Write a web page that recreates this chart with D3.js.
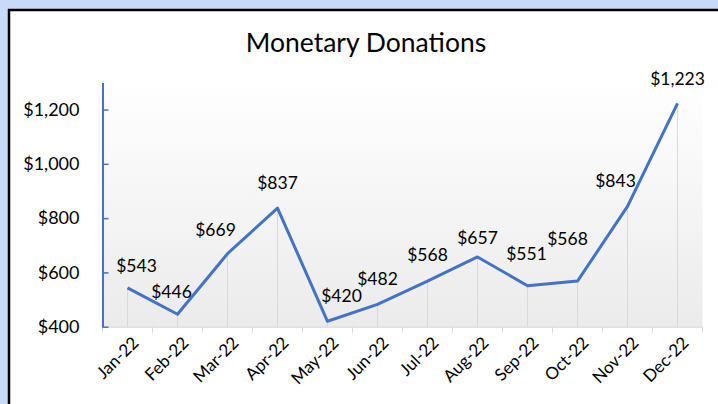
<!DOCTYPE html>
<html>
<head>
<meta charset="utf-8">
<script src="https://cdn.jsdelivr.net/npm/d3@7"></script>
<style>
  body { margin: 0; background: #c9daf8; }
  svg { display: block; }
  text { font-family: Lato, "Open Sans", sans-serif; fill: #000; }
</style>
</head>
<body>
<div id="chart"></div>
<script>
// data
var months = ["Jan-22", "Feb-22", "Mar-22", "Apr-22", "May-22", "Jun-22",
              "Jul-22", "Aug-22", "Sep-22", "Oct-22", "Nov-22", "Dec-22"];
var donations = [543, 446, 669, 837, 420, 482, 568, 657, 551, 568, 843, 1223];
var yTicks = [400, 600, 800, 1000, 1200];
var title = "Monetary Donations";

// hand placed label nudges (excel moved some labels around)
var labelNudge = [[9, 3], [-6, 3], [-12, 1], [0, 0], [14, 0], [0, 0],
                  [0, -1], [0, 6], [-1, -7], [-10, -17], [-12, 0], [0, 1]];

var width = 718, height = 404;
var plot = { left: 102.5, right: 702.5, top: 82.4, bottom: 326.7 };

var svg = d3.select("#chart").append("svg")
    .attr("width", width)
    .attr("height", height);

// chart frame
svg.append("rect")
    .attr("x", 9)
    .attr("y", 10)
    .attr("width", width + 20)
    .attr("height", height + 20)
    .attr("fill", "#fff")
    .attr("stroke", "#000")
    .attr("stroke-width", 2.5);

var grad = svg.append("defs").append("linearGradient")
    .attr("id", "plotGrad")
    .attr("x1", 0).attr("y1", 0)
    .attr("x2", 0).attr("y2", 1);
grad.append("stop").attr("offset", "0%").attr("stop-color", "#ffffff");
grad.append("stop").attr("offset", "100%").attr("stop-color", "#ebebeb");

var x = d3.scaleBand()
    .domain(months)
    .range([plot.left, plot.right]);

var y = d3.scaleLinear()
    .domain([400, 1300])
    .range([plot.bottom, plot.top]);

svg.append("rect")
    .attr("x", plot.left)
    .attr("y", y(1300))
    .attr("width", plot.right - plot.left)
    .attr("height", plot.bottom - y(1300))
    .attr("fill", "url(#plotGrad)");

svg.append("text")
    .attr("x", 366)
    .attr("y", 51.5)
    .attr("text-anchor", "middle")
    .style("font-size", "26.5px")
    .text(title);

function cx(d, i) { return x(months[i]) + x.bandwidth() / 2; }

// drop lines
svg.selectAll(".drop")
    .data(donations)
    .enter().append("line")
    .attr("class", "drop")
    .attr("x1", cx).attr("x2", cx)
    .attr("y1", function(d) { return y(d); })
    .attr("y2", plot.bottom)
    .attr("stroke", "#d9d9d9")
    .attr("stroke-width", 1);

// x axis
var xAxis = d3.axisBottom(x).tickSize(6).tickSizeOuter(0);
var gx = svg.append("g")
    .attr("transform", "translate(0," + plot.bottom + ")")
    .call(xAxis);
gx.select(".domain").attr("stroke", "#d9d9d9").attr("stroke-width", 1.2);
gx.selectAll(".tick").remove();
gx.selectAll(".sep")
    .data(d3.range(months.length + 1))
    .enter().append("line")
    .attr("class", "sep")
    .attr("x1", function(i) { return plot.left + i * x.step(); })
    .attr("x2", function(i) { return plot.left + i * x.step(); })
    .attr("y1", 0).attr("y2", 6)
    .attr("stroke", "#d9d9d9");
gx.selectAll(".mlabel")
    .data(months)
    .enter().append("text")
    .attr("class", "mlabel")
    .attr("text-anchor", "end")
    .attr("transform", function(d) {
        return "translate(" + (x(d) + x.bandwidth() / 2 + 8) + ",13) rotate(-45)";
    })
    .attr("dy", "0.35em")
    .style("font-size", "17px")
    .text(function(d) { return d; });

// y axis
var yAxis = d3.axisLeft(y)
    .tickValues(yTicks)
    .tickSize(-6)
    .tickSizeOuter(0)
    .tickPadding(23)
    .tickFormat(function(d) { return "$" + d3.format(",")(d); });
var gy = svg.append("g")
    .attr("transform", "translate(" + plot.left + ",0)")
    .call(yAxis);
gy.select(".domain").attr("stroke", "#4472c4").attr("stroke-width", 2);
gy.selectAll(".tick line").attr("stroke", "#4472c4").attr("stroke-width", 1.5);
gy.selectAll(".tick text")
    .style("font-size", "18px")
    .attr("fill", "#000")
    .style("font-family", "Lato, 'Open Sans', sans-serif");

// series line
var line = d3.line()
    .x(cx)
    .y(function(d) { return y(d); });

svg.append("path")
    .datum(donations)
    .attr("d", line)
    .attr("fill", "none")
    .attr("stroke", "#4472c4")
    .attr("stroke-width", 3)
    .attr("stroke-linejoin", "round");

// data labels
svg.selectAll(".dlabel")
    .data(donations)
    .enter().append("text")
    .attr("class", "dlabel")
    .attr("text-anchor", "middle")
    .attr("x", function(d, i) { return cx(d, i) + labelNudge[i][0]; })
    .attr("y", function(d, i) { return y(d) - 19 + labelNudge[i][1]; })
    .style("font-size", "17.5px")
    .text(function(d) { return "$" + d3.format(",")(d); });
</script>
</body>
</html>
